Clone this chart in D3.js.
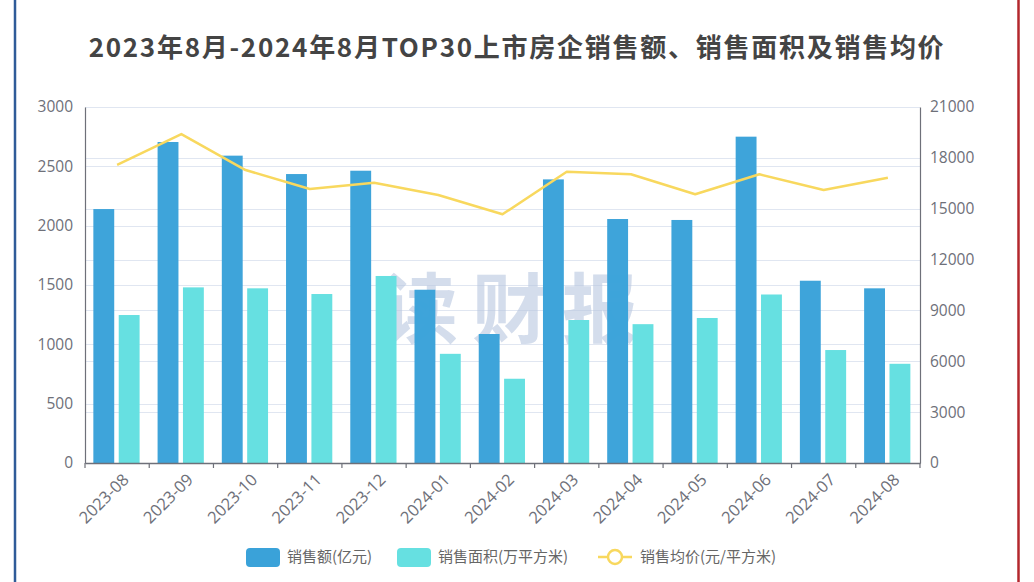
<!DOCTYPE html>
<html><head><meta charset="utf-8">
<script src="https://cdn.jsdelivr.net/npm/d3@7"></script>
<style>body{margin:0;background:#fff;}svg{display:block;font-family:"Noto Sans CJK SC","Noto Sans",sans-serif;}</style>
</head><body><svg id="c" width="1034" height="582"></svg>
<script>
const categories=["2023-08","2023-09","2023-10","2023-11","2023-12","2024-01","2024-02","2024-03","2024-04","2024-05","2024-06","2024-07","2024-08"];
const salesAmount=[2140,2705,2590,2435,2463,1460,1087,2390,2056,2048,2750,1536,1472];
const salesArea=[1247,1480,1472,1424,1576,920,710,1205,1170,1222,1420,952,836];
const avgPrice=[17580,19400,17280,16160,16530,15810,14670,17180,17030,15850,17030,16100,16830];
const leftTicks=[0,500,1000,1500,2000,2500,3000];
const rightTicks=[0,3000,6000,9000,12000,15000,18000,21000];
const seriesNames=["销售额(亿元)","销售面积(万平方米)","销售均价(元/平方米)"];
const title="2023年8月-2024年8月TOP30上市房企销售额、销售面积及销售均价";
const watermark="读财报";

const svg=d3.select("#c");
const L=85,R=920,T=107,B=463;
const colors=["#3aa2d9","#66e0e1","#f8d85e"];
// borders
svg.append("line").attr("x1",15).attr("x2",15).attr("y1",0).attr("y2",582).attr("stroke","#2f5b98").attr("stroke-width",2.5);
svg.append("line").attr("x1",1018.5).attr("x2",1018.5).attr("y1",0).attr("y2",582).attr("stroke","#b3272d").attr("stroke-width",2.5);

const x=d3.scaleBand().domain(categories).range([L,R]);
const yL=d3.scaleLinear().domain([0,3000]).range([B,T]);
const yR=d3.scaleLinear().domain([0,21000]).range([B,T]);

// gridlines
const g=svg.append("g");
leftTicks.forEach(t=>g.append("line").attr("x1",L).attr("x2",R).attr("y1",Math.round(yL(t))+.5).attr("y2",Math.round(yL(t))+.5).attr("stroke","#e0e6f1"));
rightTicks.forEach(t=>g.append("line").attr("x1",L).attr("x2",R).attr("y1",Math.round(yR(t))+.5).attr("y2",Math.round(yR(t))+.5).attr("stroke","#e0e6f1"));

// watermark
const bw=x.bandwidth();
svg.append("text").attr("x",517).attr("y",337).attr("text-anchor","middle")
 .attr("font-size",76).attr("font-weight","bold").attr("fill","#b8c6e0").attr("fill-opacity",0.6)
 .attr("letter-spacing",14).text(watermark);

// bars
const barW=bw*0.325, off=bw*0.13, gap=bw*0.07;
svg.append("g").selectAll("rect").data(salesAmount).join("rect")
 .attr("x",(d,i)=>x(categories[i])+off).attr("width",barW)
 .attr("y",d=>yL(d)).attr("height",d=>B-yL(d)).attr("fill",colors[0]).attr("fill-opacity",0.98);
svg.append("g").selectAll("rect").data(salesArea).join("rect")
 .attr("x",(d,i)=>x(categories[i])+off+barW+gap).attr("width",barW)
 .attr("y",d=>yL(d)).attr("height",d=>B-yL(d)).attr("fill",colors[1]);

// line
const line=d3.line().x((d,i)=>x(categories[i])+bw/2).y(d=>yR(d));
svg.append("path").datum(avgPrice).attr("d",line).attr("fill","none").attr("stroke",colors[2]).attr("stroke-width",2.5).attr("stroke-linejoin","round");

// axes
const axColor="#6e7079", lblColor="#6e7079";
const ax=svg.append("g").attr("transform",`translate(0,${B})`).call(d3.axisBottom(x).tickSize(0).tickFormat(""));
ax.select(".domain").attr("stroke",axColor).attr("stroke-width",1.5);
categories.concat(["__end"]).forEach((c,i)=>{
  const xx=L+i*bw;
  svg.append("line").attr("x1",xx).attr("x2",xx).attr("y1",B).attr("y2",B+5).attr("stroke",axColor).attr("stroke-width",1.2);
});
categories.forEach(c=>{
  const xx=x(c)+bw/2+4, yy=B+9;
  svg.append("text").attr("transform",`translate(${xx},${yy}) rotate(-45)`).attr("text-anchor","end").attr("dy","0.75em")
   .attr("font-size",16.5).attr("fill",lblColor).attr("font-family","'Open Sans',sans-serif").text(c);
});
const fmt=d3.format("d");
const axl=svg.append("g").attr("transform",`translate(${L},0)`).call(d3.axisLeft(yL).tickValues(leftTicks).tickFormat(fmt).tickSize(0).tickPadding(12));
axl.select(".domain").attr("stroke",axColor).attr("stroke-width",1.2);
axl.selectAll("text").attr("font-size",15.5).attr("fill",lblColor).attr("font-family","'Open Sans',sans-serif");
const axr=svg.append("g").attr("transform",`translate(${R},0)`).call(d3.axisRight(yR).tickValues(rightTicks).tickFormat(fmt).tickSize(0).tickPadding(10));
axr.select(".domain").attr("stroke",axColor).attr("stroke-width",1.2);
axr.selectAll("text").attr("font-size",15.5).attr("fill",lblColor).attr("font-family","'Open Sans',sans-serif");

// title
const tt=svg.append("text").attr("x",517).attr("y",57).attr("text-anchor","middle").attr("font-size",26).attr("font-weight","bold").attr("fill","#444").text(title);
const w=tt.node().getComputedTextLength();
const target=855;
if(w<target){tt.attr("letter-spacing",(target-w)/(title.length-1));}

// legend
const lg=svg.append("g");
const ly=557;
const lc="#666";
lg.append("rect").attr("x",246).attr("y",ly-9).attr("width",34).attr("height",19).attr("rx",4).attr("fill",colors[0]);
lg.append("text").attr("x",287).attr("y",ly).attr("dy","0.35em").attr("font-size",15).attr("fill",lc).text(seriesNames[0]);
lg.append("rect").attr("x",397).attr("y",ly-9).attr("width",34).attr("height",19).attr("rx",4).attr("fill",colors[1]);
lg.append("text").attr("x",438).attr("y",ly).attr("dy","0.35em").attr("font-size",15).attr("fill",lc).text(seriesNames[1]);
lg.append("line").attr("x1",598).attr("x2",632).attr("y1",ly).attr("y2",ly).attr("stroke",colors[2]).attr("stroke-width",2.5);
lg.append("circle").attr("cx",615).attr("cy",ly).attr("r",7).attr("fill","#fff").attr("stroke",colors[2]).attr("stroke-width",2.5);
lg.append("text").attr("x",640).attr("y",ly).attr("dy","0.35em").attr("font-size",15).attr("fill",lc).text(seriesNames[2]);
</script></body></html>
